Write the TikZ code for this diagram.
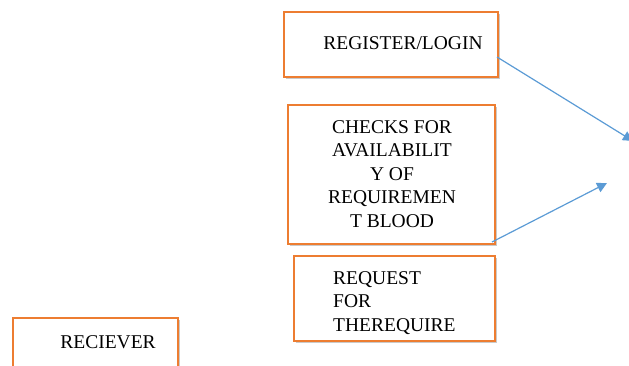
\documentclass[tikz,border=0pt]{standalone}
\usepackage{fontspec}
\setmainfont{Liberation Serif}
\usetikzlibrary{arrows.meta,shadows}
\definecolor{boxorange}{HTML}{ED7D31}
\definecolor{arrowblue}{HTML}{5B9BD5}
\tikzset{
  flowbox/.style={draw=boxorange, line width=2.2pt, fill=white, inner sep=0pt,
    drop shadow={shadow xshift=1.5pt, shadow yshift=-1.5pt, fill=black!35, opacity=0.6}},
  boxtext/.style={font=\fontsize{19.5}{23.5}\selectfont, inner sep=0pt},
  link/.style={draw=arrowblue, line width=1.2pt, -{Triangle[length=10pt,width=10pt]}}
}
\begin{document}
\begin{tikzpicture}[x=1pt,y=-1pt]
\useasboundingbox (0,0) rectangle (629,365);
\clip (0,0) rectangle (629,365);
% boxes
\node[flowbox, minimum width=214pt, minimum height=65pt, anchor=north west] (reg) at (283,11) {};
\node[flowbox, minimum width=207pt, minimum height=139pt, anchor=north west] (chk) at (287,104) {};
\node[flowbox, minimum width=201pt, minimum height=85pt, anchor=north west] (req) at (293,255) {};
\node[flowbox, minimum width=165pt, minimum height=70pt, anchor=north west] (rec) at (12,317) {};
% texts
\node[boxtext] (regt) at (403,43) {REGISTER/LOGIN};
\node[boxtext, align=center] (chkt) at (392,174) {CHECKS FOR\\AVAILABILIT\\Y OF\\REQUIREMEN\\T BLOOD};
\node[boxtext, align=left, anchor=west] (reqt) at (333,303) {REQUEST\\FOR\\THEREQUIRE};
\node[boxtext] (rect) at (108,342) {RECIEVER};
% connectors
\coordinate (e1) at (633,141);
\coordinate (e2) at (607,183);
\coordinate (s1) at (497,57);
\coordinate (s2) at (492,242);
\draw[link] (s1) -- (e1);
\draw[link] (s2) -- (e2);
\end{tikzpicture}
\end{document}
